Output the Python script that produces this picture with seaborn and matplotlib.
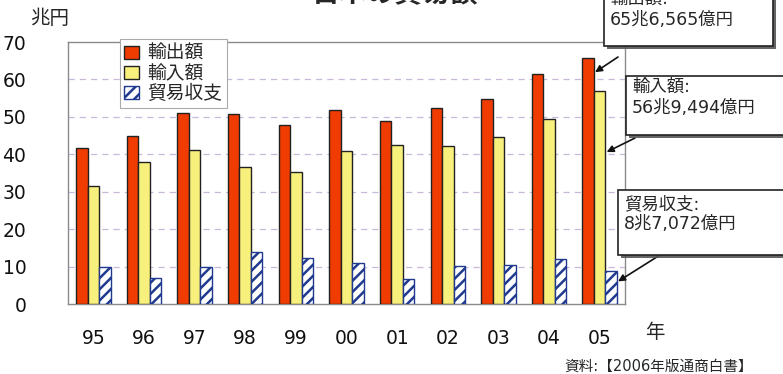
import matplotlib
matplotlib.use('Agg')
import matplotlib.pyplot as plt
import matplotlib.patheffects as pe
from matplotlib.patches import Patch, Rectangle
import pandas as pd
import seaborn as sns

# values (兆円)
years = ['95', '96', '97', '98', '99', '00', '01', '02', '03', '04', '05']
exports = [41.6, 44.9, 51.0, 50.8, 47.7, 51.8, 49.0, 52.3, 54.7, 61.4, 65.66]
imports = [31.4, 38.0, 41.1, 36.6, 35.2, 40.9, 42.6, 42.3, 44.7, 49.5, 56.95]
balance = [9.9, 6.9, 10.0, 14.0, 12.3, 10.9, 6.6, 10.2, 10.5, 12.1, 8.71]
series = ['輸出額', '輸入額', '貿易収支']
y_ticks = [0, 10, 20, 30, 40, 50, 60, 70]

df = pd.DataFrame({
    'year': years * 3,
    'value': exports + imports + balance,
    'series': [s for s in series for _ in years],
})

sns.set_style('white')
plt.rcParams['font.family'] = ['DejaVu Sans', 'Noto Sans CJK JP']
plt.rcParams['hatch.linewidth'] = 1.8

fig = plt.figure(figsize=(7.83, 3.74), dpi=100)
ax = fig.add_axes([68 / 783, 1 - 304 / 374, 557 / 783, 262 / 374])

palette = {'輸出額': '#f03c00', '輸入額': '#f8f07c', '貿易収支': 'white'}
sns.barplot(data=df, x='year', y='value', hue='series', palette=palette,
            width=0.68, saturation=1, edgecolor='#222222', linewidth=1,
            legend=False, ax=ax, zorder=3)

# hatched trade balance bars
for bar in ax.containers[2]:
    bar.set_hatch('///')
    bar.set_edgecolor('#1f3a8f')

ax.set_ylim(0, 70)
ax.set_yticks(y_ticks)
ax.set_xlabel('')
ax.set_ylabel('')
ax.tick_params(axis='y', length=0, pad=30, labelsize=13.5)
ax.tick_params(axis='x', length=0, pad=18, labelsize=13.5)
ax.set_xticks([i + 0.5 for i in range(len(years) - 1)], minor=True)
ax.tick_params(axis='x', which='minor', direction='in', length=4, color='#999999')
for lbl in ax.get_xticklabels() + ax.get_yticklabels():
    lbl.set_color('#111111')
for sp in ax.spines.values():
    sp.set_color('#8a8a8a')
    sp.set_linewidth(1)
for v in y_ticks[1:-1]:
    ax.axhline(v, color='#c9b9d9', lw=0.9, ls=(0, (5, 4)), zorder=1)

handles = [Patch(facecolor=palette['輸出額'], edgecolor='#222222', label='輸出額'),
           Patch(facecolor=palette['輸入額'], edgecolor='#222222', label='輸入額'),
           Patch(facecolor='white', edgecolor='#1f3a8f', hatch='///', label='貿易収支')]
leg = ax.legend(handles=handles, loc='upper left', bbox_to_anchor=(0.093, 1.01),
                fontsize=13.5, handlelength=0.75, handleheight=0.75, handletextpad=0.45,
                labelspacing=0.05, borderpad=0.25, borderaxespad=0, fancybox=False,
                framealpha=1, edgecolor='#aaaaaa')
leg.get_frame().set_linewidth(0.8)
leg.set_zorder(5)

H = 374
fig.text(395 / 783, 1 - 7 / H, '日本の貿易額', ha='center', va='bottom',
         fontsize=20, fontweight='bold')
fig.text(30 / 783, 1 - 19 / H, '兆円', ha='left', va='center', fontsize=14)
fig.text(655 / 783, 1 - 333 / H, '年', ha='center', va='center', fontsize=14)
fig.text(753 / 783, 1 - 366 / H, '資料:【2006年版通商白書】', ha='right',
         va='center', fontsize=10.5)

# callout boxes (figure pixels from top-left)
shadow = [pe.SimplePatchShadow(offset=(2.5, -2.5), shadow_rgbFace='#555555', alpha=0.9), pe.Normal()]
boxes = [
    # x, y, w, h, text x, line centres, lines
    (604, -20, 169, 66, 610, (-1, 20), ('輸出額:', '65兆6,565億円')),
    (626, 76, 170, 59, 632, (87, 108), ('輸入額:', '56兆9,494億円')),
    (618, 190, 170, 65, 624, (204, 224), ('貿易収支:', '8兆7,072億円')),
]
arrow_start = [(618, 57), (635, 138), (660, 255)]
arrow_frac = [0.94, 0.71, 0.67]
for k, ((bx, by, bw, bh, tx, ys, lines), (sx, sy)) in enumerate(zip(boxes, arrow_start)):
    r = Rectangle((bx, H - by - bh), bw, bh, transform=None, facecolor='white',
                  edgecolor='#222222', linewidth=1.2, zorder=4)
    r.set_path_effects(shadow)
    fig.add_artist(r)
    for yy, line in zip(ys, lines):
        fig.text(tx / 783, (H - yy) / H, line, ha='left', va='center',
                 fontsize=12.5, zorder=6)
    bar = ax.containers[k][-1]
    ax.annotate('', xy=(bar.get_x() + bar.get_width(), bar.get_height() * arrow_frac[k]),
                xycoords='data', xytext=(sx, H - sy), textcoords='figure pixels',
                arrowprops=dict(arrowstyle='-|>', color='#111111', lw=1.2,
                                mutation_scale=10, shrinkA=0, shrinkB=1),
                annotation_clip=False, zorder=7)

fig.savefig('out.png', dpi=100)
